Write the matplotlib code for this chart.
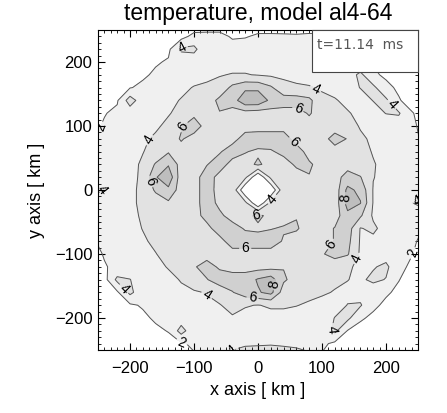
# temperature map of model al4-64, contour plot
import numpy as np
import matplotlib
matplotlib.use('Agg')
import matplotlib.pyplot as plt
from matplotlib.ticker import MultipleLocator
from matplotlib.patches import Rectangle

plt.rcParams['font.family'] = ['Liberation Sans', 'DejaVu Sans']

# grid positions [km]
x_km = [-260, -240, -220, -200, -180, -160, -140, -120, -100, -80, -60, -40, -20, 0,
        20, 40, 60, 80, 100, 120, 140, 160, 180, 200, 220, 240, 260]
y_km = [260, 240, 220, 200, 180, 160, 140, 120, 100, 80, 60, 40, 20, 0,
        -20, -40, -60, -80, -100, -120, -140, -160, -180, -200, -220, -240, -260]

# temperature, one row per y (top row first)
temp_rows = [
    [0.3, 0.3, 0.3, 0.3, 0.3, 0.3, 0.4, 0.6, 0.6, 0.8, 1.0, 1.2, 1.3, 1.3, 1.3, 1.2, 1.0, 1.0, 1.0, 1.0, 0.4, 0.3, 0.3, 0.3, 0.3, 0.3, 0.3],
    [0.3, 0.3, 0.3, 0.3, 0.3, 0.5, 0.9, 1.3, 2.6, 2.6, 2.5, 1.8, 1.9, 2.2, 2.2, 2.2, 2.2, 2.3, 2.3, 2.1, 1.9, 1.6, 1.4, 1.0, 0.7, 0.5, 0.3],
    [0.3, 0.3, 0.3, 0.3, 0.6, 1.1, 1.6, 4.4, 4.5, 2.4, 2.5, 2.7, 2.7, 2.7, 2.7, 2.6, 2.5, 2.5, 2.4, 2.3, 2.1, 1.7, 1.2, 0.7, 0.3, 0.3, 0.3],
    [0.3, 0.3, 0.3, 0.7, 1.2, 1.8, 2.2, 2.5, 2.8, 3.0, 3.1, 3.3, 3.3, 3.3, 3.2, 3.1, 3.0, 2.9, 2.9, 2.7, 2.6, 2.2, 1.9, 1.3, 0.8, 0.3, 0.3],
    [0.3, 0.3, 0.8, 1.4, 1.7, 2.3, 2.6, 3.0, 3.3, 3.6, 3.9, 4.1, 4.1, 3.9, 3.7, 3.7, 3.6, 3.5, 3.3, 3.1, 2.9, 4.5, 2.2, 1.8, 1.4, 0.9, 0.5],
    [0.3, 0.7, 1.3, 1.9, 2.4, 2.8, 3.2, 3.6, 4.1, 4.3, 4.6, 6.5, 7.5, 7.5, 6.3, 4.5, 4.2, 4.1, 3.8, 3.6, 3.4, 4.05, 4.5, 2.3, 1.8, 1.2, 0.7],
    [0.6, 1.3, 1.8, 5.0, 2.8, 3.2, 3.6, 4.1, 4.5, 4.9, 6.5, 7.0, 9.5, 9.5, 7.5, 7.0, 7.0, 6.5, 4.4, 4.1, 3.7, 3.3, 4.05, 4.4, 2.1, 1.5, 0.9],
    [1.2, 1.9, 2.4, 2.8, 3.2, 3.6, 3.9, 4.4, 5.5, 5.2, 5.9, 5.2, 5.2, 5.0, 5.2, 5.2, 5.2, 6.2, 5.0, 4.5, 4.1, 3.7, 3.3, 4.05, 4.2, 2.1, 1.5],
    [1.5, 2.2, 2.6, 3.0, 3.4, 3.8, 4.3, 5.8, 7.0, 5.2, 5.2, 5.2, 5.2, 5.2, 5.2, 5.2, 5.2, 5.2, 5.2, 5.0, 4.5, 3.9, 3.5, 3.0, 3.0, 2.2, 1.7],
    [1.8, 2.3, 2.9, 3.3, 3.8, 4.2, 4.9, 6.2, 5.2, 5.2, 5.2, 5.3, 6.8, 7.0, 7.0, 7.0, 5.2, 5.2, 5.2, 6.8, 5.9, 4.2, 3.8, 3.3, 2.8, 2.3, 1.8],
    [2.2, 2.6, 3.0, 3.5, 3.95, 4.5, 5.8, 5.2, 5.2, 5.2, 5.8, 7.0, 6.1, 5.7, 5.8, 6.5, 7.0, 5.2, 5.2, 5.2, 5.2, 4.5, 3.9, 3.5, 3.0, 2.5, 2.1],
    [2.3, 2.7, 3.1, 3.6, 4.2, 6.2, 7.8, 5.2, 5.2, 5.9, 7.0, 5.2, 5.3, 6.3, 5.3, 5.2, 6.3, 6.3, 5.2, 5.2, 5.2, 4.7, 4.1, 3.6, 3.1, 2.6, 2.2],
    [2.4, 2.8, 3.2, 3.7, 4.2, 7.8, 9.5, 4.8, 5.2, 7.0, 5.3, 5.3, 4.5, 0.0, 4.5, 5.3, 5.2, 5.9, 5.2, 5.2, 6.8, 6.1, 4.05, 3.6, 3.1, 2.6, 2.3],
    [5.5, 3.9, 3.3, 3.7, 4.3, 6.3, 7.5, 5.0, 5.2, 7.0, 5.2, 5.5, 0.0, -10.0, 0.0, 5.5, 5.2, 5.2, 5.2, 4.8, 8.5, 7.5, 3.9, 3.5, 3.0, 2.6, 2.2],
    [2.4, 2.8, 3.2, 3.7, 4.3, 4.9, 5.7, 5.2, 5.2, 7.0, 5.5, 5.3, 4.5, 0.0, 4.5, 5.3, 5.2, 5.2, 5.2, 4.8, 8.8, 8.1, 3.9, 3.5, 3.0, 3.9, 5.5],
    [2.3, 2.7, 3.1, 3.6, 4.2, 4.8, 5.2, 5.2, 5.2, 6.7, 6.4, 5.2, 5.3, 6.5, 5.3, 5.2, 5.9, 5.2, 5.2, 5.0, 7.5, 6.3, 3.7, 3.4, 2.9, 2.6, 2.2],
    [2.1, 2.6, 3.0, 3.5, 4.05, 4.6, 5.2, 5.2, 5.2, 5.4, 7.0, 6.8, 5.8, 5.6, 5.9, 6.2, 6.2, 5.2, 5.2, 6.1, 7.0, 3.9, 4.4, 3.2, 2.8, 2.4, 1.95],
    [1.8, 2.4, 2.9, 3.3, 3.8, 4.3, 4.9, 5.2, 5.2, 5.2, 5.3, 7.0, 7.0, 7.0, 7.0, 5.8, 5.2, 5.2, 5.2, 6.1, 6.6, 3.8, 3.5, 3.1, 2.7, 2.2, 1.7],
    [1.5, 2.1, 2.7, 3.1, 3.5, 3.95, 4.5, 5.0, 5.5, 5.2, 5.2, 5.2, 5.2, 5.2, 5.2, 5.2, 5.2, 5.2, 5.8, 6.8, 6.2, 3.7, 3.4, 3.0, 2.6, 2.05, 1.6],
    [1.3, 1.9, 2.3, 2.8, 3.2, 3.6, 4.1, 4.5, 5.8, 6.8, 5.7, 5.2, 5.2, 5.2, 5.3, 5.9, 5.8, 5.2, 5.0, 4.6, 4.2, 3.7, 3.8, 4.5, 2.3, 1.8, 1.1],
    [0.8, 1.3, 4.5, 4.05, 3.0, 3.4, 3.6, 4.1, 4.5, 5.9, 7.0, 7.0, 7.0, 8.2, 9.0, 6.3, 5.2, 5.0, 4.6, 4.3, 4.05, 3.6, 4.5, 3.9, 2.05, 1.4, 0.8],
    [0.5, 1.0, 1.7, 4.5, 2.7, 3.1, 3.4, 3.7, 3.9, 4.05, 4.8, 5.9, 7.0, 7.8, 8.6, 5.0, 4.6, 4.4, 4.2, 3.9, 3.6, 3.2, 2.6, 2.2, 1.7, 1.1, 0.6],
    [0.3, 0.5, 1.1, 1.7, 2.2, 2.7, 3.0, 3.3, 3.6, 3.8, 3.9, 4.6, 4.1, 3.95, 4.2, 4.2, 4.05, 3.8, 3.5, 3.3, 4.05, 4.2, 2.3, 1.7, 1.2, 0.6, 0.3],
    [0.3, 0.3, 0.6, 1.1, 1.6, 2.3, 2.6, 2.9, 3.1, 3.3, 3.5, 3.8, 3.6, 3.6, 3.5, 3.5, 3.4, 3.3, 3.0, 4.05, 4.5, 2.2, 1.7, 1.2, 0.7, 0.3, 0.3],
    [0.3, 0.3, 0.3, 0.6, 1.1, 1.6, 2.1, 4.8, 2.6, 2.8, 2.9, 3.0, 3.1, 3.1, 3.1, 3.0, 2.9, 2.8, 2.6, 4.5, 1.9, 1.5, 1.1, 0.6, 0.3, 0.3, 0.3],
    [0.3, 0.3, 0.3, 0.3, 0.3, 0.9, 1.3, 1.8, 2.3, 2.6, 2.8, 3.4, 3.6, 3.7, 3.8, 3.6, 3.5, 3.3, 2.4, 1.6, 1.2, 0.8, 0.4, 0.3, 0.3, 0.3, 0.3],
    [0.3, 0.3, 0.3, 0.3, 0.3, 0.3, 0.6, 1.0, 1.8, 2.1, 2.4, 4.6, 5.5, 5.5, 5.5, 5.5, 5.0, 4.4, 1.8, 1.2, 0.8, 0.5, 0.3, 0.3, 0.3, 0.3, 0.3],
]

levels = [2, 4, 6, 8]
fill_levels = [-20, 2, 4, 6, 8, 20]
fill_colors = ['white', '#f0f0f0', '#e2e2e2', '#d0d0d0', '#bebebe']

# where the contour labels sit (km)
label_pos = {
    2: [(-247, 98), (240, -98), (-119, -237)],
    4: [(-119, 222), (-169, 78), (89, 156), (148, -104), (-78, -161), (-244, 0),
        (248, -16), (105, -215), (-205, -150), (-44, -247), (19, -12), (205, 130)],
    6: [(63, 128), (-125, 102), (-169, 13), (50, 70), (-20, -89), (112, -83),
        (-8, -164), (-3, -42)],
    8: [(139, -13), (19, -146)],
}

X, Y = np.meshgrid(x_km, y_km)
Z = np.array(temp_rows)

fig = plt.figure(figsize=(4.47, 4.13), dpi=100)
ax = fig.add_axes([98 / 447, 63 / 413, 320 / 447, 320 / 413])

ax.contourf(X, Y, Z, levels=fill_levels, colors=fill_colors)
# one contour set per level so each can get its own hand-placed labels
for lev in levels:
    cs = ax.contour(X, Y, Z, levels=[lev], colors='#555555', linewidths=0.7)
    ax.clabel(cs, manual=label_pos[lev], fmt='%d', fontsize=10,
              colors='black', inline=True, inline_spacing=2)

ax.set_xlim(-250, 250)
ax.set_ylim(-250, 250)
ax.set_xticks([-200, -100, 0, 100, 200])
ax.set_yticks([-200, -100, 0, 100, 200])
ax.xaxis.set_minor_locator(MultipleLocator(10))
ax.yaxis.set_minor_locator(MultipleLocator(10))
ax.tick_params(which='both', direction='in', top=True, right=True, labelsize=12)
ax.tick_params(which='major', length=5)
ax.tick_params(which='minor', length=2.5)
ax.tick_params(axis='x', pad=8)
ax.tick_params(axis='y', pad=4)

ax.set_title('temperature, model al4-64', fontsize=16.5, pad=7)
ax.set_xlabel('x axis [ km ]', fontsize=13, labelpad=4)
ax.set_ylabel('y axis [ km ]', fontsize=13, labelpad=7)

# time stamp box in the upper right corner
ax.add_patch(Rectangle((0.669, 0.869), 0.331, 0.131, transform=ax.transAxes,
                       facecolor='white', edgecolor='#444444', lw=0.8,
                       zorder=10, clip_on=False))
ax.text(0.683, 0.953, 't=11.14  ms', transform=ax.transAxes, fontsize=10,
        family='DejaVu Sans', color='#555555', ha='left', va='center', zorder=11)

fig.savefig('out.png', dpi=100)
